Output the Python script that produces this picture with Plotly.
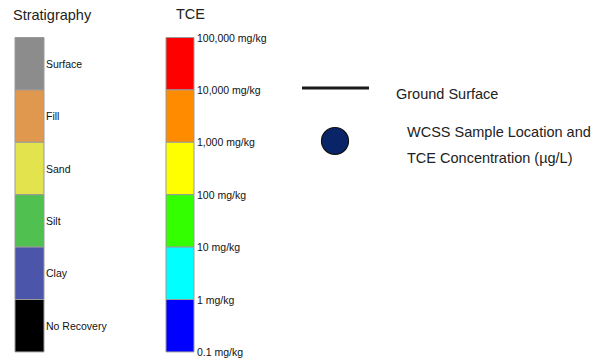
import plotly.graph_objects as go

# Stratigraphy column (top to bottom)
strat_labels = ["Surface", "Fill", "Sand", "Silt", "Clay", "No Recovery"]
strat_colors = ["#8c8c8c", "#e0984f", "#e3e34e", "#50c050", "#4b55aa", "#000000"]

# TCE concentration scale (top to bottom)
tce_bounds = ["100,000 mg/kg", "10,000 mg/kg", "1,000 mg/kg", "100 mg/kg",
              "10 mg/kg", "1 mg/kg", "0.1 mg/kg"]
tce_colors = ["#ff0000", "#ff8c00", "#ffff00", "#33ff00", "#00ffff", "#0000ff"]

# Symbol legend
symbol_labels = ["Ground Surface", "WCSS Sample Location and", "TCE Concentration (µg/L)"]

W, H = 603, 360
TOP_PX, SEG_PX = 37.5, 52.4  # column top and band height in pixels

FONT = "Liberation Sans, Arial, sans-serif"

fig = go.Figure()

# Each band is one unit tall; axis maps units to the column height
for i, (lab, col) in enumerate(zip(strat_labels, strat_colors)):
    fig.add_trace(go.Bar(x=[29.5], y=[1], base=[i], width=[29],
                         marker=dict(color=col, line=dict(color="#9a9a9a", width=1)),
                         name=lab, showlegend=False, hoverinfo="name"))
for i, col in enumerate(tce_colors):
    fig.add_trace(go.Bar(x=[180], y=[1], base=[i], width=[28],
                         marker=dict(color=col, line=dict(color="#9a9a9a", width=1)),
                         name=tce_bounds[i], showlegend=False, hoverinfo="name"))

y_top = -TOP_PX / SEG_PX
y_bot = (H - TOP_PX) / SEG_PX

# Band labels
for i, lab in enumerate(strat_labels):
    fig.add_annotation(x=44, y=i + 0.5, text=lab, xref="x", yref="y",
                       xanchor="left", yanchor="middle", showarrow=False,
                       font=dict(family=FONT, size=10.5, color="#111"))
for i, lab in enumerate(tce_bounds):
    fig.add_annotation(x=194.5, y=i, text=lab, xref="x", yref="y",
                       xanchor="left", yanchor="middle", showarrow=False,
                       font=dict(family=FONT, size=10.5, color="#111"))

def py(p):
    return 1 - p / H

# Titles
fig.add_annotation(x=10.5, y=py(15), text="Stratigraphy", xref="x", yref="paper",
                   xanchor="left", yanchor="middle", showarrow=False,
                   font=dict(family=FONT, size=14.5, color="#222"))
fig.add_annotation(x=173.5, y=py(14), text="TCE", xref="x", yref="paper",
                   xanchor="left", yanchor="middle", showarrow=False,
                   font=dict(family=FONT, size=14.5, color="#222"))

# Symbol legend: ground surface line and sample location marker
fig.add_trace(go.Scatter(x=[302, 369], y=[88, 88], xaxis="x", yaxis="y2",
                         mode="lines", line=dict(color="#1a1a1a", width=3),
                         showlegend=False, hoverinfo="skip"))
fig.add_trace(go.Scatter(x=[335], y=[141], xaxis="x", yaxis="y2",
                         mode="markers",
                         marker=dict(size=27, color="#0a2468",
                                     line=dict(color="#111", width=1.2)),
                         showlegend=False, hoverinfo="skip"))

for txt, x, y in [(symbol_labels[0], 393.5, 94),
                  (symbol_labels[1], 405, 132),
                  (symbol_labels[2], 405, 158)]:
    fig.add_annotation(x=x, y=y, text=txt, xref="x", yref="y2",
                       xanchor="left", yanchor="middle", showarrow=False,
                       font=dict(family=FONT, size=14.5, color="#222"))

axis_off = dict(visible=False, showgrid=False, zeroline=False, fixedrange=True)
fig.update_layout(
    width=W, height=H,
    margin=dict(l=0, r=0, t=0, b=0),
    paper_bgcolor="white", plot_bgcolor="white",
    barmode="overlay",
    xaxis=dict(range=[0, W], domain=[0, 1], **axis_off),
    yaxis=dict(range=[y_bot, y_top], domain=[0, 1], **axis_off),
    yaxis2=dict(range=[H, 0], domain=[0, 1], overlaying="y", **axis_off),
)

fig.write_html("out.html")
